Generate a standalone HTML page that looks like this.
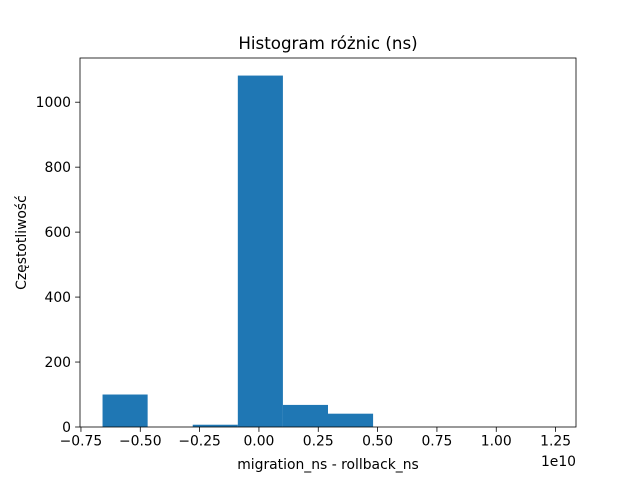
<!DOCTYPE html>
<html><head><meta charset="utf-8"><style>
body{margin:0;background:#fff;font-family:"DejaVu Sans","Liberation Sans",sans-serif;}
</style></head><body>
<svg id="chart" width="640" height="480" xmlns="http://www.w3.org/2000/svg" font-family="DejaVu Sans, Liberation Sans, sans-serif">
<rect width="640" height="480" fill="#fff"/>
<g id="bars"></g>
<g id="axes"></g>
</svg>
<script>
const binEdgeMin = -0.659e10;
const binEdgeMax = 1.241e10;
const counts = [100, 0, 7, 1082, 68, 41, 0, 0, 0, 0];
const xTicks = [-0.75e10, -0.5e10, -0.25e10, 0, 0.25e10, 0.5e10, 0.75e10, 1.0e10, 1.25e10];
const xTickLabels = ["−0.75", "−0.50", "−0.25", "0.00", "0.25", "0.50", "0.75", "1.00", "1.25"];
const yTicks = [0, 200, 400, 600, 800, 1000];

const NS = "http://www.w3.org/2000/svg";
const L = 80, R = 576, T = 58, B = 427;
const span = binEdgeMax - binEdgeMin;
const xmin = binEdgeMin - span * 0.05, xmax = binEdgeMax + span * 0.05;
const ymax = Math.max(...counts) * 1.05;
const xs = v => L + (v - xmin) / (xmax - xmin) * (R - L);
const ys = v => B - v / ymax * (B - T);
function mk(tag, attrs, parent, text) {
  const e = document.createElementNS(NS, tag);
  for (const k in attrs) e.setAttribute(k, attrs[k]);
  if (text !== undefined) e.textContent = text;
  parent.appendChild(e); return e;
}
const bars = document.getElementById('bars');
const axes = document.getElementById('axes');
const w = span / counts.length;
counts.forEach((c, i) => {
  if (c <= 0) return;
  const x0 = xs(binEdgeMin + i * w), x1 = xs(binEdgeMin + (i + 1) * w);
  const r = mk('rect', {x: x0, y: ys(c), width: x1 - x0, height: B - ys(c), fill: '#1f77b4'}, bars);
  
  
});
const frame = mk('rect', {x: L, y: T, width: R - L, height: B - T, fill: 'none', stroke: '#000', 'stroke-width': 0.8}, axes);


xTicks.forEach((v, i) => {
  const x = xs(v);
  mk('line', {x1: x, x2: x, y1: B, y2: B + 4.9, stroke: '#000', 'stroke-width': 0.8}, axes);
  const t = mk('text', {x: x, y: B + 18.5, 'text-anchor': 'middle', 'font-size': 13.9}, axes, xTickLabels[i]);
  
  
});
yTicks.forEach(v => {
  const y = ys(v);
  mk('line', {x1: L - 4.9, x2: L, y1: y, y2: y, stroke: '#000', 'stroke-width': 0.8}, axes);
  const t = mk('text', {x: L - 9, y: y + 5, 'text-anchor': 'end', 'font-size': 13.9}, axes, String(v));
  
  
});
const off = mk('text', {x: R, y: 466, 'text-anchor': 'end', 'font-size': 13.9}, axes, '1e10');


const xt = mk('text', {x: (L + R) / 2, y: 469, 'text-anchor': 'middle', 'font-size': 13.9}, axes, 'migration_ns - rollback_ns');


const yt = mk('text', {x: 26, y: (T + B) / 2, 'text-anchor': 'middle', 'font-size': 13.9, transform: 'rotate(-90 26 ' + (T + B) / 2 + ')'}, axes, 'Częstotliwość');


const tt = mk('text', {x: (L + R) / 2, y: 49, 'text-anchor': 'middle', 'font-size': 16.7}, axes, 'Histogram różnic (ns)');


</script>
</body></html>
